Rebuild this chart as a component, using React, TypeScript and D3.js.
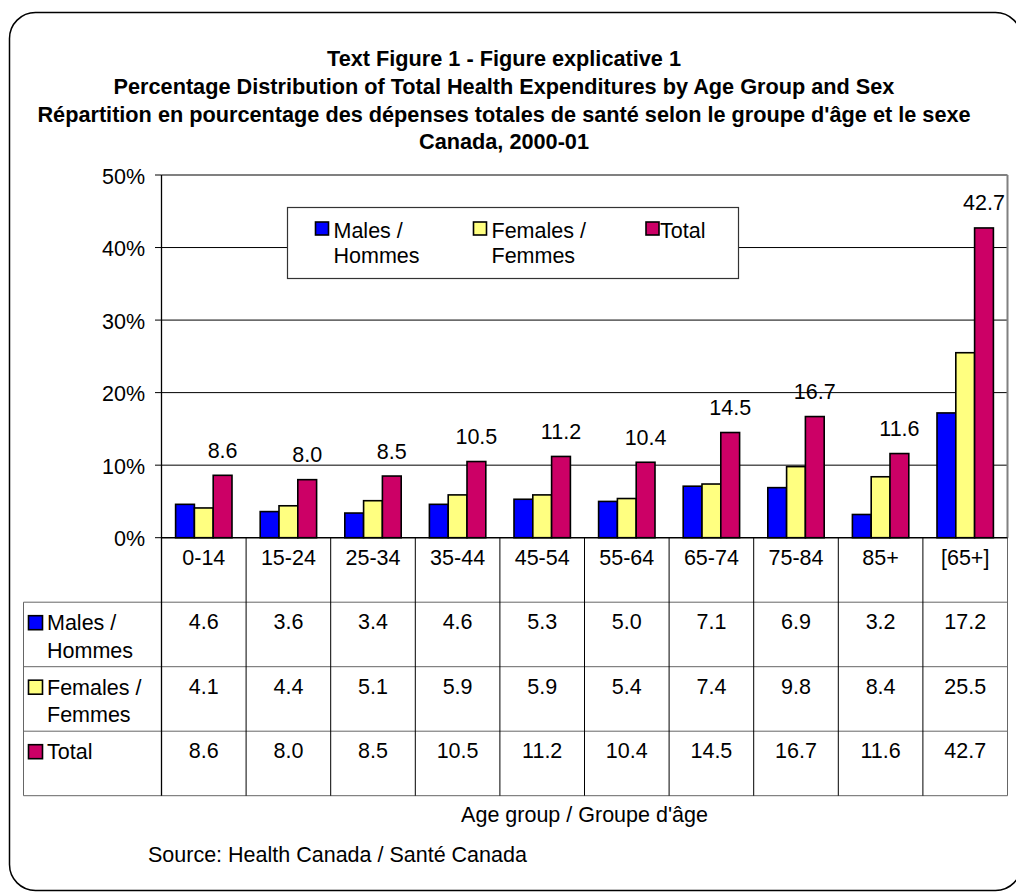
import React from "react";
import * as d3 from "d3";

const categories = ["0-14", "15-24", "25-34", "35-44", "45-54", "55-64", "65-74", "75-84", "85+", "[65+]"];
const males = [4.6, 3.6, 3.4, 4.6, 5.3, 5.0, 7.1, 6.9, 3.2, 17.2];
const females = [4.1, 4.4, 5.1, 5.9, 5.9, 5.4, 7.4, 9.8, 8.4, 25.5];
const totals = [8.6, 8.0, 8.5, 10.5, 11.2, 10.4, 14.5, 16.7, 11.6, 42.7];
const yTicks = [0, 10, 20, 30, 40, 50];
const seriesNames = [["Males /", "Hommes"], ["Females /", "Femmes"], ["Total"]];
const seriesColors = ["#0000FF", "#FFFF80", "#CC0066"];
const titleLines = [
  "Text Figure 1 - Figure explicative 1",
  "Percentage Distribution of Total Health Expenditures by Age Group and Sex",
  "Répartition en pourcentage des dépenses totales de santé selon le groupe d'âge et le sexe",
  "Canada, 2000-01",
];
const axisTitle = "Age group / Groupe d'âge";
const sourceText = "Source: Health Canada / Santé Canada";

const W = 1016;
const H = 892;
const FONT = "'Liberation Sans', Arial, Helvetica, sans-serif";
const FS = 21.5;

export default function App() {
  const series = [males, females, totals];
  const left = 161.5;
  const right = 1007.5;
  const top = 175;
  const bottom = 537.7;
  const rowH = 64.5;
  const tableLeft = 23.5;

  const x = d3.scaleBand<string>().domain(categories).range([left, right]).paddingInner(0).paddingOuter(0);
  const y = d3.scaleLinear().domain([0, 50]).range([bottom, top]);
  const bw = x.bandwidth();
  const barW = bw / 4.5;
  const sub = d3
    .scaleBand<number>()
    .domain([0, 1, 2])
    .range([(bw - 3 * barW) / 2, (bw + 3 * barW) / 2])
    .paddingInner(0);
  const fmt = d3.format(".1f");

  const rowTops = d3.range(5).map((i) => bottom + i * rowH);
  const tableBottom = rowTops[4];

  const legendBox = { x: 287.5, y: 207.5, w: 451, h: 71 };
  const legendSwatchX = [315.5, 473.5, 646];
  const legendTextX = [333.5, 491.5, 660];

  return (
    <svg
      width={W}
      height={H}
      style={{ position: "absolute", left: 0, top: 0, background: "#fff" }}
      fontFamily={FONT}
    >
      <rect x={9.5} y={12.5} width={1012} height={878} rx={26} ry={26} fill="#fff" stroke="#000" strokeWidth={1.5} />

      {titleLines.map((t, i) => (
        <text key={i} x={504} y={66 + i * 27.8} textAnchor="middle" fontWeight="bold" fontSize={21.7} fill="#000">
          {t}
        </text>
      ))}

      {/* gridlines */}
      {yTicks.slice(1, -1).map((t) => (
        <line key={t} x1={left} x2={right} y1={y(t)} y2={y(t)} stroke="#000" strokeWidth={1} />
      ))}
      {/* plot area border */}
      <line x1={left} x2={right} y1={top} y2={top} stroke="#808080" strokeWidth={2} />
      <line x1={right} x2={right} y1={top} y2={bottom} stroke="#808080" strokeWidth={2} />

      {/* y ticks and labels */}
      {yTicks.map((t) => (
        <g key={t}>
          <line x1={155} x2={left} y1={y(t)} y2={y(t)} stroke="#000" strokeWidth={1} />
          <text x={145} y={y(t) + 8.5} textAnchor="end" fontSize={FS} fill="#000">
            {t}%
          </text>
        </g>
      ))}

      {/* legend */}
      <rect x={legendBox.x} y={legendBox.y} width={legendBox.w} height={legendBox.h} fill="#fff" stroke="#333" strokeWidth={1.2} />
      {seriesNames.map((name, i) => (
        <g key={i}>
          <rect x={legendSwatchX[i]} y={222} width={13} height={13} fill={seriesColors[i]} stroke="#000" strokeWidth={1.6} />
          {name.map((ln, j) => (
            <text key={j} x={legendTextX[i]} y={238.3 + j * 25} fontSize={FS} fill="#000">
              {ln}
            </text>
          ))}
        </g>
      ))}

      {/* bars */}
      {categories.map((c, ci) => (
        <g key={c} transform={`translate(${x(c)},0)`}>
          {series.map((vals, si) => (
            <rect
              key={si}
              x={sub(si)}
              y={y(vals[ci])}
              width={barW}
              height={y(0) - y(vals[ci])}
              fill={seriesColors[si]}
              stroke="#000"
              strokeWidth={1.6}
            />
          ))}
          <text x={(sub(2) as number) + barW / 2} y={y(totals[ci]) - 17.5} textAnchor="middle" fontSize={FS} fill="#000">
            {fmt(totals[ci])}
          </text>
        </g>
      ))}

      {/* table horizontal lines */}
      {rowTops.slice(1).map((ry, i) => (
        <line key={i} x1={tableLeft} x2={right} y1={ry} y2={ry} stroke="#666" strokeWidth={1} />
      ))}
      <line x1={tableLeft} x2={tableLeft} y1={rowTops[1]} y2={tableBottom} stroke="#666" strokeWidth={1} />
      {categories.map((c, ci) => (
        <line key={c} x1={(x(c) as number) + bw} x2={(x(c) as number) + bw} y1={bottom} y2={tableBottom} stroke={ci === categories.length - 1 ? "#666" : "#000"} strokeWidth={1} />
      ))}
      {/* y axis & category axis */}
      <line x1={left} x2={left} y1={top} y2={tableBottom} stroke="#000" strokeWidth={1.3} />
      <line x1={left} x2={right} y1={bottom} y2={bottom} stroke="#000" strokeWidth={1.5} />

      {/* category labels */}
      {categories.map((c) => (
        <text key={c} x={(x(c) as number) + bw / 2} y={bottom + 27} textAnchor="middle" fontSize={FS} fill="#000">
          {c}
        </text>
      ))}

      {/* table rows */}
      {series.map((vals, si) => (
        <g key={si}>
          <rect x={28.5} y={rowTops[si + 1] + 13.5} width={14} height={14} fill={seriesColors[si]} stroke="#000" strokeWidth={1.6} />
          {seriesNames[si].map((ln, j) => (
            <text key={j} x={47} y={rowTops[si + 1] + 28 + j * 27.5} fontSize={FS} fill="#000">
              {ln}
            </text>
          ))}
          {categories.map((c, ci) => (
            <text key={c} x={(x(c) as number) + bw / 2} y={rowTops[si + 1] + 27} textAnchor="middle" fontSize={FS} fill="#000">
              {fmt(vals[ci])}
            </text>
          ))}
        </g>
      ))}

      <text x={(left + right) / 2} y={821.7} textAnchor="middle" fontSize={FS} fill="#000">
        {axisTitle}
      </text>
      <text x={148} y={861.7} fontSize={FS} fill="#000">
        {sourceText}
      </text>
    </svg>
  );
}
